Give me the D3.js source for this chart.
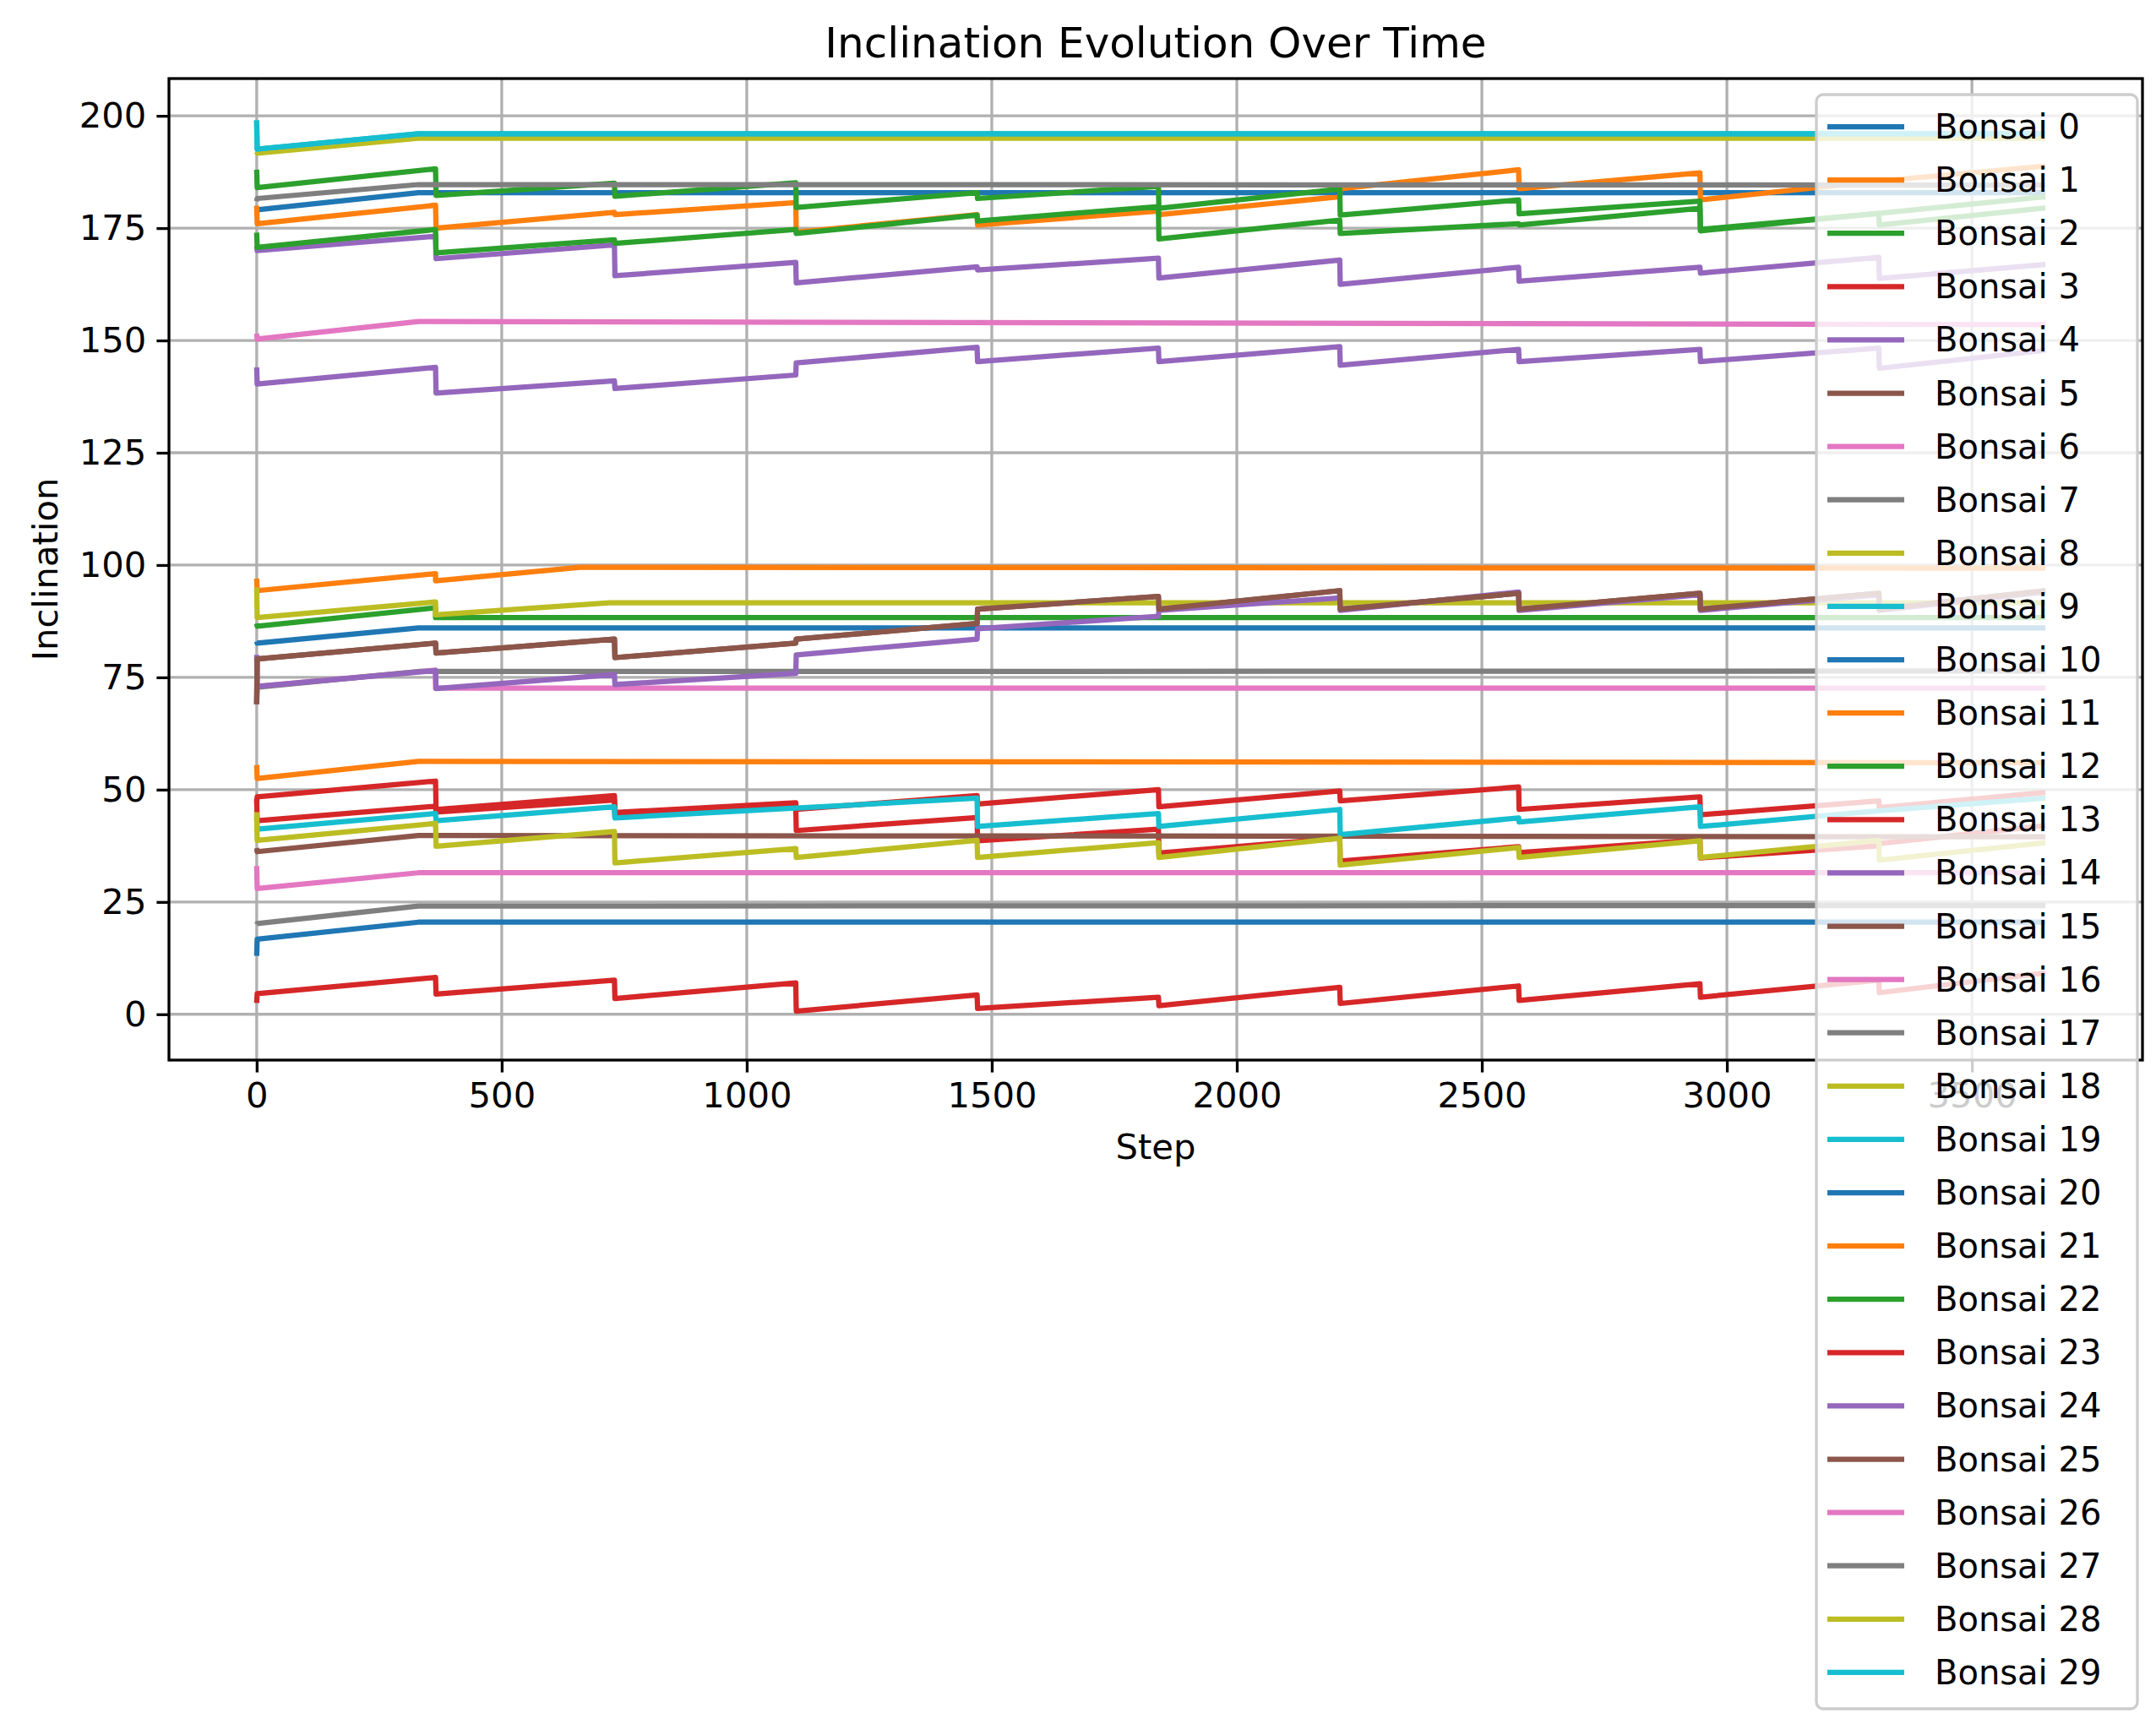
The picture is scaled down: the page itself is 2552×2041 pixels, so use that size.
<!DOCTYPE html>
<html>
<head>
<meta charset="utf-8">
<script src="https://cdn.jsdelivr.net/npm/d3@7"></script>
<style>
  body { margin: 0; background: #fff; }
  text { font-family: "DejaVu Sans", sans-serif; }
</style>
</head>
<body>
<div id="chart"></div>
<script>
// cycle boundaries (steps) where the sawtooth series reset
const cycleBounds = [0, 365, 730, 1100, 1470, 1840, 2210, 2575, 2945, 3310, 3650];

// sawtooth series: [start, end] value for each cycle, plus the first-step spike
const orangeSaw = [[176,180.1],[175,178.5],[178,180.7],[174.1,178],[175.7,178.8],[178,182],[183.8,188],[183.8,187.3],[181.3,185.5],[185.5,188.8]];
const greenA = [[184,188.2],[182.3,185],[182.1,185.1],[179.6,182.9],[181.6,184.3],[179.4,183.7],[177.9,181.3],[178.2,181],[174.7,178.3],[175.7,179.5]];
const greenB = [[170.7,174.7],[169.5,172.4],[171.6,174.7],[173.8,177.9],[176.6,179.8],[172.6,176.8],[173.8,176],[175.7,179.4],[174.4,178.3],[178.3,182]];
const purpleA = [[170,173.2],[168.2,171.3],[164.4,167.4],[162.8,166.4],[165.7,168.3],[163.9,167.9],[162.5,166.3],[163.2,166.3],[165,168.5],[163.8,166.9]];
const purpleB = [[140.3,144],[138.3,141],[139.3,142.3],[145,148.5],[145.3,148.3],[145.3,148.6],[144.5,148],[145.3,148],[145.3,148.3],[143.8,147.8]];
const purpleC = [[73,76.5],[72.5,75.6],[73.4,75.9],[80,83.5],[85.8,88.6],[89.9,92.7],[89.9,94],[89.9,93.4],[89.9,93.4],[89.9,94]];
const brownA = [[79.1,82.6],[80.4,83.5],[79.4,82.6],[83.5,87],[90.2,93],[90.2,94.3],[90.2,93.7],[90.2,93.7],[90.2,93.7],[90.2,94.3]];
const redA = [[48.4,51.9],[45.6,48.7],[44.9,47.1],[45.6,48.7],[46.8,50],[46.2,49.7],[47.5,50.6],[45.6,48.4],[44.4,47.5],[46,49.4]];
const redB = [[43.1,46.3],[45,47.7],[44,46.5],[40.9,43.8],[38.6,41.2],[35.9,39.2],[34.1,37.3],[36,38.8],[34.8,37.5],[38,42]];
const redC = [[4.6,8.2],[4.5,7.6],[3.5,7],[0.7,4.3],[1.3,3.8],[1.9,6],[2.4,6.3],[3.1,6.8],[3.8,7.6],[4.8,9.2]];
const cyanB = [[41.2,44.7],[43.1,46.2],[43.7,45.9],[45.9,48.1],[41.8,44.7],[41.8,45.6],[40,43.7],[42.8,46.2],[41.8,45.3],[45.3,48.1]];
const oliveC = [[38.7,42.5],[37.4,40.7],[33.7,36.9],[34.9,38.7],[34.9,38.2],[34.9,39.2],[33.2,37.1],[34.9,38.6],[34.9,38.7],[34.3,38.2]];

// series that settle: [step, value] points
const cyanTop = [[0,199],[1,192.6],[330,196],[3650,196]];
const oliveTop = [[0,192],[1,191.7],[330,195],[3650,195]];
const grayTop = [[0,181],[1,181.6],[330,184.7],[3650,184.6]];
const blueTop = [[0,179],[1,179.1],[330,182.9],[3650,182.9]];
const pinkTop = [[0,151.5],[1,150.3],[330,154.2],[3650,153.5]];
const orange99 = [[0,97],[1,94.3],[365,98.1],[365,96.5],[660,99.5],[3650,99.3]];
const olive91 = [[0,95],[1,88.3],[365,91.8],[365,88.9],[720,91.6],[3650,91.6]];
const green88 = [[0,87],[1,86.4],[365,90.5],[365,88.3],[3650,88.3]];
const blue86 = [[0,83],[1,82.6],[330,86],[3650,86]];
const gray76 = [[0,69],[1,72.8],[330,76.3],[3650,76.4]];
const pink72 = [[0,73],[1,73],[365,76.6],[365,72.6],[3650,72.6]];
const orange56 = [[0,55.5],[1,52.5],[330,56.3],[3650,56]];
const brown39 = [[0,37],[1,36.2],[330,39.8],[3650,39.5]];
const pink31 = [[0,33],[1,28],[330,31.5],[3650,31.5]];
const gray24 = [[0,20],[1,20.2],[330,24.1],[3650,24.2]];
const blue20 = [[0,13],[1,16.7],[330,20.5],[3650,20.5]];

function saw(spike, cycles) {
  const pts = [[0, spike]];
  cycles.forEach((c, i) => {
    pts.push([cycleBounds[i] + 1, c[0]]);
    pts.push([cycleBounds[i + 1], c[1]]);
  });
  return pts;
}

const series = [
  blueTop, saw(180, orangeSaw), saw(188, greenA), saw(47, redA), saw(171, purpleA),
  saw(69, brownA), pinkTop, grayTop, oliveTop, cyanTop,
  blue86, orange99, green88, saw(48, redB), saw(144, purpleB),
  brown39, pink72, gray76, olive91, saw(44, cyanB),
  blue20, orange56, saw(174, greenB), saw(2.5, redC), saw(80, purpleC),
  saw(69, brownA), pink31, gray24, saw(45, oliveC), cyanTop
];
const names = series.map((d, i) => 'Bonsai ' + i);
const colors = ['#1f77b4','#ff7f0e','#2ca02c','#d62728','#9467bd','#8c564b','#e377c2','#7f7f7f','#bcbd22','#17becf'];
const xTicks = [0, 500, 1000, 1500, 2000, 2500, 3000, 3500];
const yTicks = [0, 25, 50, 75, 100, 125, 150, 175, 200];

const W = 2552, H = 2041;
const L = 200, R = 2536, T = 93, B = 1255;

const svg = d3.select('#chart').append('svg').attr('width', W).attr('height', H);

const x = d3.scaleLinear().domain([-179, 3848]).range([L, R]);
const y = d3.scaleLinear().domain([-10.2, 208.3]).range([B, T]);

svg.append('defs').append('clipPath').attr('id', 'clip')
  .append('rect').attr('x', L).attr('y', T).attr('width', R - L).attr('height', B - T);

// grid
const grid = svg.append('g').attr('stroke', '#b0b0b0').attr('stroke-width', 3.3);
grid.selectAll('.gx').data(xTicks).enter().append('line')
  .attr('x1', d => x(d)).attr('x2', d => x(d)).attr('y1', T).attr('y2', B);
grid.selectAll('.gy').data(yTicks).enter().append('line')
  .attr('y1', d => y(d)).attr('y2', d => y(d)).attr('x1', L).attr('x2', R);

const line = d3.line().x(d => x(d[0])).y(d => y(d[1]));
svg.append('g').attr('clip-path', 'url(#clip)').selectAll('path')
  .data(series).enter().append('path')
  .attr('d', line)
  .attr('fill', 'none')
  .attr('stroke', (d, i) => colors[i % 10])
  .attr('stroke-width', 6.25)
  .attr('stroke-linejoin', 'round');

// axes
const xAxis = svg.append('g').attr('transform', `translate(0,${B})`)
  .call(d3.axisBottom(x).tickValues(xTicks).tickSize(14.6).tickPadding(12).tickFormat(d3.format('d')));
const yAxis = svg.append('g').attr('transform', `translate(${L},0)`)
  .call(d3.axisLeft(y).tickValues(yTicks).tickSize(14.6).tickPadding(12).tickFormat(d3.format('d')));
[xAxis, yAxis].forEach(a => {
  a.select('.domain').remove();
  a.selectAll('line').attr('stroke', '#000').attr('stroke-width', 3.3);
  a.selectAll('text').attr('font-size', 41.7).attr('fill', '#000')
    .attr('font-family', '"DejaVu Sans", sans-serif');
});
svg.append('rect').attr('x', L).attr('y', T).attr('width', R - L).attr('height', B - T)
  .attr('fill', 'none').attr('stroke', '#000').attr('stroke-width', 3.3);

svg.append('text').attr('x', (L + R) / 2).attr('y', 68).attr('text-anchor', 'middle')
  .attr('font-size', 50).text('Inclination Evolution Over Time');
svg.append('text').attr('x', (L + R) / 2).attr('y', 1372).attr('text-anchor', 'middle')
  .attr('font-size', 41.7).text('Step');
svg.append('text').attr('transform', `translate(68,${(T + B) / 2}) rotate(-90)`)
  .attr('text-anchor', 'middle').attr('font-size', 41.7).text('Inclination');

// legend
const lg = svg.append('g');
const lx = 2150, ly = 112, step = 63.1;
lg.append('rect').attr('x', lx).attr('y', ly).attr('width', 2530 - lx)
  .attr('height', 30 * step + 18).attr('rx', 8)
  .attr('fill', 'rgba(255,255,255,0.8)').attr('stroke', '#cccccc').attr('stroke-width', 3.3);
const item = lg.selectAll('.item').data(names).enter().append('g')
  .attr('transform', (d, i) => `translate(0,${ly + 38 + i * step})`);
item.append('line').attr('x1', lx + 13).attr('x2', lx + 104).attr('y1', 0).attr('y2', 0)
  .attr('stroke', (d, i) => colors[i % 10]).attr('stroke-width', 6.25);
item.append('text').attr('x', lx + 140).attr('y', 14).attr('font-size', 40).text(d => d);
</script>
</body>
</html>
